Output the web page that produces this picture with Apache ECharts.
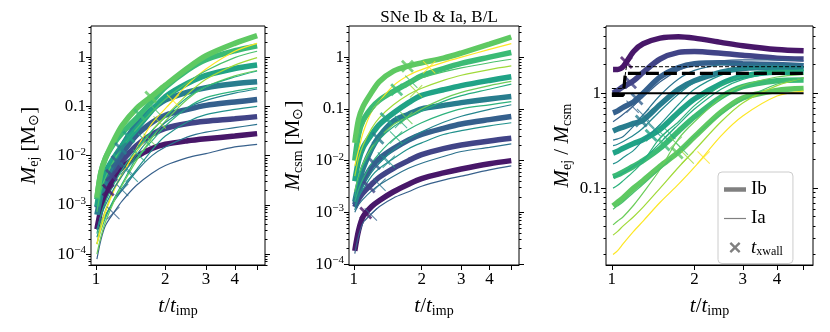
<!DOCTYPE html>
<html>
<head>
<meta charset="utf-8">
<script src="https://cdn.jsdelivr.net/npm/echarts@6/dist/echarts.min.js"></script>
<style>
  html, body { margin: 0; padding: 0; background: #fff; }
  #chart { width: 830px; height: 332px; }
</style>
</head>
<body>
<div id="chart"></div>
<script>
// t / t_imp sample points shared by every curve
const tGrid = [1.01, 1.05, 1.1, 1.2, 1.3, 1.5, 1.75, 2, 2.5, 3, 4, 5];

// SNe Ib (thick) -- M_ej
const ejIb1 = [3.2e-4, 7.9e-4, 1.6e-3, 3.6e-3, 5.8e-3, 9.5e-3, 0.014, 0.017, 0.020, 0.022, 0.025, 0.028];
const ejIb2 = [1.26e-3, 1.9e-3, 2.8e-3, 4.8e-3, 7.9e-3, 0.016, 0.027, 0.036, 0.045, 0.050, 0.056, 0.062];
const ejIb3 = [8.7e-4, 1.6e-3, 2.8e-3, 6.2e-3, 0.011, 0.026, 0.047, 0.066, 0.087, 0.105, 0.123, 0.138];
const ejIb4 = [6.3e-4, 1.5e-3, 3.1e-3, 7.9e-3, 0.016, 0.044, 0.087, 0.135, 0.195, 0.24, 0.288, 0.316];
const ejIb5 = [9.3e-4, 2.5e-3, 4.7e-3, 9.3e-3, 0.016, 0.035, 0.083, 0.158, 0.295, 0.427, 0.589, 0.692];
const ejIb6 = [1.3e-3, 4.4e-3, 8.9e-3, 0.018, 0.029, 0.058, 0.126, 0.245, 0.55, 0.89, 1.35, 1.7];
const ejIb7 = [1.4e-3, 4.5e-3, 8.9e-3, 0.021, 0.041, 0.091, 0.162, 0.269, 0.603, 1.07, 1.91, 2.75];

// SNe Ib -- M_csm
const csmIb1 = [1.8e-4, 4.5e-4, 8.3e-4, 1.3e-3, 1.7e-3, 2.5e-3, 3.5e-3, 4.5e-3, 5.8e-3, 6.9e-3, 8.7e-3, 0.010];
const csmIb2 = [1.26e-3, 1.8e-3, 2.4e-3, 3.5e-3, 4.8e-3, 7.1e-3, 0.010, 0.013, 0.017, 0.020, 0.024, 0.027];
const csmIb3 = [1.4e-3, 2.5e-3, 4.0e-3, 7.6e-3, 0.011, 0.017, 0.025, 0.032, 0.042, 0.051, 0.062, 0.071];
const csmIb4 = [1.6e-3, 3.5e-3, 7.1e-3, 0.017, 0.030, 0.058, 0.079, 0.10, 0.117, 0.132, 0.155, 0.174];
const csmIb5 = [4.0e-3, 0.010, 0.018, 0.032, 0.050, 0.083, 0.132, 0.182, 0.234, 0.282, 0.355, 0.417];
const csmIb6 = [0.010, 0.032, 0.060, 0.105, 0.148, 0.219, 0.316, 0.437, 0.603, 0.759, 1.0, 1.23];
const csmIb7 = [0.022, 0.063, 0.112, 0.209, 0.339, 0.537, 0.676, 0.776, 0.955, 1.2, 1.78, 2.45];

// SNe Ib -- M_ej / M_csm
const ratioIb1 = [1.78, 1.78, 1.91, 2.75, 3.31, 3.8, 3.94, 3.8, 3.43, 3.16, 2.88, 2.79];
const ratioIb2 = [1.0, 1.07, 1.17, 1.35, 1.66, 2.29, 2.69, 2.75, 2.63, 2.51, 2.34, 2.29];
const ratioIb3 = [0.62, 0.65, 0.71, 0.81, 1.0, 1.48, 1.86, 2.04, 2.09, 2.04, 2.0, 1.95];
const ratioIb4 = [0.40, 0.42, 0.44, 0.48, 0.52, 0.76, 1.1, 1.35, 1.66, 1.82, 1.86, 1.82];
const ratioIb5 = [0.234, 0.245, 0.263, 0.295, 0.324, 0.417, 0.63, 0.87, 1.26, 1.51, 1.66, 1.66];
const ratioIb6 = [0.132, 0.138, 0.148, 0.17, 0.195, 0.263, 0.398, 0.562, 0.912, 1.17, 1.35, 1.38];
const ratioIb7 = [0.065, 0.071, 0.079, 0.10, 0.12, 0.17, 0.24, 0.347, 0.631, 0.891, 1.07, 1.12];

// SNe Ia (thin) -- M_ej
const ejIa1 = [7.9e-5, 1.9e-4, 3.8e-4, 7.1e-4, 1.2e-3, 2.5e-3, 4.4e-3, 6.3e-3, 9.1e-3, 0.011, 0.015, 0.017];
const ejIa2 = [3.2e-4, 4.7e-4, 6.3e-4, 1.2e-3, 2.0e-3, 4.8e-3, 0.010, 0.015, 0.024, 0.030, 0.037, 0.043];
const ejIa3 = [2.2e-4, 3.8e-4, 5.9e-4, 1.26e-3, 2.2e-3, 5.2e-3, 0.013, 0.025, 0.049, 0.068, 0.087, 0.10];
const ejIa4 = [1.6e-4, 3.0e-4, 5.4e-4, 1.35e-3, 2.7e-3, 8.9e-3, 0.020, 0.040, 0.095, 0.151, 0.204, 0.24];
const ejIa5 = [1.0e-4, 2.2e-4, 4.5e-4, 1.2e-3, 2.5e-3, 7.9e-3, 0.023, 0.050, 0.141, 0.25, 0.417, 0.537];
const ejIa6 = [1.6e-4, 4.0e-4, 7.9e-4, 2.1e-3, 4.3e-3, 0.012, 0.032, 0.063, 0.178, 0.355, 0.69, 0.98];
const ejIa7 = [1.6e-4, 3.2e-4, 7.0e-4, 2.0e-3, 4.0e-3, 0.014, 0.045, 0.09, 0.28, 0.575, 1.32, 1.91];
const ejIa8 = [7.2e-4, 1.95e-3, 3.6e-3, 8.1e-3, 0.0154, 0.035, 0.077, 0.14, 0.31, 0.53, 0.98, 1.32];
const ejIa9 = [2.6e-4, 6.1e-4, 1.16e-3, 2.7e-3, 5.2e-3, 0.0135, 0.032, 0.061, 0.154, 0.252, 0.396, 0.525];
const ejIa10 = [3.1e-4, 5.8e-4, 9.9e-4, 2.2e-3, 3.9e-3, 0.0104, 0.0255, 0.047, 0.094, 0.133, 0.186, 0.226];

// SNe Ia -- M_csm
const csmIa1 = [1.6e-4, 3.5e-4, 6.3e-4, 9.5e-4, 1.3e-3, 1.9e-3, 2.5e-3, 3.2e-3, 4.2e-3, 5.0e-3, 6.6e-3, 7.9e-3];
const csmIa2 = [1.0e-3, 1.4e-3, 1.8e-3, 2.6e-3, 3.4e-3, 5.0e-3, 7.1e-3, 8.9e-3, 0.012, 0.015, 0.018, 0.021];
const csmIa3 = [1.26e-3, 2.0e-3, 2.8e-3, 5.0e-3, 7.1e-3, 0.011, 0.017, 0.022, 0.032, 0.038, 0.047, 0.054];
const csmIa4 = [1.6e-3, 2.8e-3, 4.5e-3, 8.9e-3, 0.014, 0.026, 0.040, 0.054, 0.079, 0.10, 0.12, 0.138];
const csmIa5 = [2.5e-3, 5.0e-3, 8.9e-3, 0.018, 0.028, 0.050, 0.071, 0.10, 0.158, 0.209, 0.282, 0.339];
const csmIa6 = [5.0e-3, 0.011, 0.020, 0.042, 0.068, 0.12, 0.19, 0.25, 0.355, 0.447, 0.575, 0.676];
const csmIa7 = [7.9e-3, 0.016, 0.035, 0.089, 0.141, 0.282, 0.447, 0.575, 0.794, 1.0, 1.41, 1.82];
const csmIa8 = [0.012, 0.030, 0.050, 0.090, 0.14, 0.22, 0.32, 0.40, 0.52, 0.62, 0.78, 0.91];
const csmIa9 = [2.0e-3, 4.5e-3, 8.0e-3, 0.016, 0.026, 0.045, 0.068, 0.09, 0.14, 0.18, 0.24, 0.30];
const csmIa10 = [1.1e-3, 2.0e-3, 3.2e-3, 6.0e-3, 9.0e-3, 0.016, 0.026, 0.036, 0.055, 0.072, 0.098, 0.12];

// SNe Ia -- M_ej / M_csm
const ratioIa1 = [0.50, 0.54, 0.60, 0.74, 0.91, 1.32, 1.74, 2.0, 2.19, 2.24, 2.24, 2.19];
const ratioIa2 = [0.32, 0.33, 0.35, 0.45, 0.59, 0.95, 1.41, 1.74, 2.0, 2.04, 2.04, 2.04];
const ratioIa3 = [0.18, 0.19, 0.21, 0.25, 0.32, 0.47, 0.76, 1.1, 1.55, 1.78, 1.86, 1.86];
const ratioIa4 = [0.10, 0.107, 0.12, 0.15, 0.19, 0.34, 0.50, 0.74, 1.2, 1.51, 1.7, 1.74];
const ratioIa5 = [0.041, 0.045, 0.050, 0.066, 0.089, 0.158, 0.331, 0.50, 0.89, 1.2, 1.48, 1.58];
const ratioIa6 = [0.032, 0.035, 0.040, 0.050, 0.063, 0.10, 0.166, 0.25, 0.50, 0.79, 1.2, 1.45];
const ratioIa7 = [0.020, 0.022, 0.026, 0.035, 0.045, 0.071, 0.11, 0.166, 0.355, 0.575, 0.933, 1.05];
const ratioIa8 = [0.060, 0.065, 0.072, 0.09, 0.11, 0.16, 0.24, 0.35, 0.60, 0.85, 1.25, 1.45];
const ratioIa9 = [0.13, 0.135, 0.145, 0.17, 0.20, 0.30, 0.47, 0.68, 1.1, 1.4, 1.65, 1.75];
const ratioIa10 = [0.28, 0.29, 0.31, 0.36, 0.43, 0.65, 0.98, 1.3, 1.7, 1.85, 1.9, 1.88];

// t_xwall crosses
const xwallTIb = [1.13, 1.17, 1.235, 1.28, 1.39, 1.55, 1.73];
const xwallEjIb = [2.0e-3, 4.0e-3, 7.6e-3, 0.014, 0.024, 0.067, 0.155];
const xwallCsmIb = [9.7e-4, 3.1e-3, 8.7e-3, 0.027, 0.065, 0.235, 0.665];
const xwallRatioIb = [2.1, 1.29, 0.87, 0.51, 0.36, 0.285, 0.234];
const xwallTIa = [1.19, 1.30, 1.43, 1.54, 1.71, 1.89, 2.16, 1.8, 1.62, 1.36];
const xwallEjIa = [6.8e-4, 2.0e-3, 3.9e-3, 0.010, 0.021, 0.047, 0.13, 0.088, 0.021, 5.5e-3];
const xwallCsmIa = [9.1e-4, 3.4e-3, 9.5e-3, 0.028, 0.067, 0.22, 0.64, 0.335, 0.056, 0.011];
const xwallRatioIa = [0.72, 0.59, 0.41, 0.36, 0.30, 0.21, 0.21, 0.26, 0.38, 0.49];

// black guide lines in the ratio panel
const guideSolidT = [1.0, 5.0];
const guideSolidV = [1.0, 1.0];
const guideThickT = [1.0, 1.1, 1.12, 5.0];
const guideThickV = [0.95, 0.95, 1.62, 1.62];
const guideThinT = [1.0, 1.1, 1.13, 5.0];
const guideThinV = [1.12, 1.12, 1.9, 1.9];

const ibColors = ['#481769', '#414487', '#35608d', '#287d8e', '#20a386', '#3bbb75', '#5ec962'];
const iaColors = ['#38618c', '#2c728e', '#21918c', '#2db27d', '#6ccd5a', '#a0da39', '#fde725',
  '#4ac16d', '#27ad81', '#24868e'];

const panels = [
  { ib: [ejIb1, ejIb2, ejIb3, ejIb4, ejIb5, ejIb6, ejIb7],
    ia: [ejIa1, ejIa2, ejIa3, ejIa4, ejIa5, ejIa6, ejIa7, ejIa8, ejIa9, ejIa10],
    xIb: xwallEjIb, xIa: xwallEjIa },
  { ib: [csmIb1, csmIb2, csmIb3, csmIb4, csmIb5, csmIb6, csmIb7],
    ia: [csmIa1, csmIa2, csmIa3, csmIa4, csmIa5, csmIa6, csmIa7, csmIa8, csmIa9, csmIa10],
    xIb: xwallCsmIb, xIa: xwallCsmIa },
  { ib: [ratioIb1, ratioIb2, ratioIb3, ratioIb4, ratioIb5, ratioIb6, ratioIb7],
    ia: [ratioIa1, ratioIa2, ratioIa3, ratioIa4, ratioIa5, ratioIa6, ratioIa7, ratioIa8, ratioIa9, ratioIa10],
    xIb: xwallRatioIb, xIa: xwallRatioIa }
];

const FONT = 'Liberation Serif';
const grids = [
  { left: 91, top: 26, width: 174, height: 239 },
  { left: 349, top: 26, width: 170, height: 239 },
  { left: 606, top: 26, width: 207, height: 239 }
];
const yRanges = [[6e-5, 4.3], [9.6e-5, 4.0], [0.0155, 5.1]];
const yNames = [
  '{i|M}{s|ej} [M{s|⊙}]',
  '{i|M}{s|csm} [M{s|⊙}]',
  '{i|M}{s|ej} / {i|M}{s|csm}'
];
const yNameGaps = [50, 44, 32];

const crossThick = 'path://M0,1.84L1.84,0L6,4.16L10.16,0L12,1.84L7.84,6L12,10.16L10.16,12L6,7.84L1.84,12L0,10.16L4.16,6Z';
const crossThin = 'path://M0,0.7L0.7,0L6,5.3L11.3,0L12,0.7L6.7,6L12,11.3L11.3,12L6,6.7L0.7,12L0,11.3L5.3,6Z';

const nameStyle = {
  fontFamily: FONT, fontSize: 21, color: '#000',
  rich: {
    i: { fontFamily: FONT, fontStyle: 'italic', fontSize: 21, color: '#000' },
    s: { fontFamily: FONT, fontSize: 14, color: '#000', padding: [9, 0, 0, 0] }
  }
};
const labelRich = { sup: { fontFamily: FONT, fontSize: 11, color: '#000', padding: [0, 0, 8, 0] } };

function logLabel (v) {
  if (v >= 0.1) return String(+v.toPrecision(3));
  const e = Math.round(Math.log10(v));
  return '10{sup|−' + (-e) + '}';
}

function decadeTicks (lo, hi) {
  const major = [];
  const minor = [];
  for (let e = -6; e <= 1; e++) {
    for (let m = 1; m <= 9; m++) {
      const v = +(m * Math.pow(10, e)).toPrecision(3);
      if (v < lo || v > hi) continue;
      if (m === 1) major.push(v); else minor.push(v);
    }
  }
  return { major, minor };
}

const xAxes = [];
const yAxes = [];
grids.forEach((g, k) => {
  xAxes.push({
    type: 'log', gridIndex: k, min: 0.952, max: 5.41,
    axisLine: { show: true, lineStyle: { color: '#000', width: 1 } },
    axisTick: { show: true, inside: false, length: 5, customValues: [1, 2, 3, 4, 5], lineStyle: { color: '#000' } },
    axisLabel: { customValues: [1, 2, 3, 4], fontFamily: FONT, fontSize: 17, color: '#000', margin: 6 },
    splitLine: { show: false },
    name: '{i|t}/{i|t}{s|imp}', nameLocation: 'middle', nameGap: 30,
    nameTextStyle: nameStyle
  });
  const r = yRanges[k];
  const tk = decadeTicks(r[0], r[1]);
  [['left', true], ['right', false]].forEach(([pos, withLabels]) => {
    yAxes.push({
      type: 'log', gridIndex: k, min: r[0], max: r[1], position: pos, offset: 0,
      axisLine: { show: false },
      axisTick: { show: true, inside: false, length: 5, customValues: tk.major, lineStyle: { color: '#000' } },
      axisLabel: withLabels
        ? { customValues: tk.major, formatter: logLabel, fontFamily: FONT, fontSize: 17, color: '#000', margin: 5, rich: labelRich }
        : { show: false },
      splitLine: { show: false },
      name: withLabels ? yNames[k] : '', nameLocation: 'middle', nameGap: yNameGaps[k], nameRotate: 90,
      nameTextStyle: nameStyle
    });
    yAxes.push({
      type: 'log', gridIndex: k, min: r[0], max: r[1], position: pos, offset: 0,
      axisLine: { show: false },
      axisTick: { show: true, inside: false, length: 2.5, customValues: tk.minor, lineStyle: { color: '#000' } },
      axisLabel: { show: false },
      splitLine: { show: false }
    });
  });
});

const series = [];
function curve (k, vals, color, thick) {
  series.push({
    type: 'line', xAxisIndex: k, yAxisIndex: k * 4,
    data: tGrid.map((t, i) => [t, vals[i]]),
    showSymbol: false, smooth: 0.3, silent: true,
    lineStyle: { color: color, width: thick ? 5.5 : 1.2 },
    itemStyle: { color: color }, z: thick ? 2 : 3
  });
}
function crosses (k, ts, vals, colors, thick) {
  series.push({
    type: 'scatter', xAxisIndex: k, yAxisIndex: k * 4, silent: true,
    symbol: thick ? crossThick : crossThin, symbolSize: 13,
    data: ts.map((t, i) => ({ value: [t, vals[i]], itemStyle: { color: colors[i] } })),
    z: 5
  });
}

panels.forEach((p, k) => {
  p.ib.forEach((vals, j) => curve(k, vals, ibColors[j], true));
  p.ia.forEach((vals, j) => curve(k, vals, iaColors[j], false));
  crosses(k, xwallTIb, p.xIb, ibColors, true);
  crosses(k, xwallTIa, p.xIa, iaColors, false);
});

// guide lines (ratio panel)
function guide (ts, vs, width, type) {
  series.push({
    type: 'line', xAxisIndex: 2, yAxisIndex: 8, silent: true, showSymbol: false,
    data: ts.map((t, i) => [t, vs[i]]),
    lineStyle: { color: '#000', width: width, type: type }, z: 6
  });
}
guide(guideSolidT, guideSolidV, 2, 'solid');
guide(guideThickT, guideThickV, 3.2, [13, 5]);
guide(guideThinT, guideThinV, 1, [4, 2]);

// legend-only series
['Ib', 'Ia', 'xwall'].forEach(n => {
  series.push({ name: n, type: 'line', xAxisIndex: 2, yAxisIndex: 8, data: [], itemStyle: { color: '#808080' }, lineStyle: { color: '#808080' } });
});

const option = {
  animation: false,
  backgroundColor: '#fff',
  title: {
    text: 'SNe Ib & Ia, B/L', left: 434, top: 4, textAlign: 'center',
    textStyle: { fontFamily: FONT, fontSize: 17, fontWeight: 'normal', color: '#000' }
  },
  grid: grids.map(g => Object.assign({ show: true, borderColor: '#000', borderWidth: 1, backgroundColor: 'transparent' }, g)),
  xAxis: xAxes,
  yAxis: yAxes,
  legend: {
    orient: 'vertical', left: 718, top: 172, itemWidth: 22, itemHeight: 11, itemGap: 10,
    backgroundColor: '#fff', borderColor: '#cccccc', borderWidth: 1, borderRadius: 4,
    padding: [8, 10, 6, 6], selectedMode: false,
    data: [
      { name: 'Ib', icon: 'path://M0,0h22v4.5h-22z' },
      { name: 'Ia', icon: 'path://M0,0h22v1.2h-22z' },
      { name: 'xwall', icon: crossThick }
    ],
    formatter: n => n === 'xwall' ? '{i|t}{s|xwall}' : n,
    textStyle: {
      fontFamily: FONT, fontSize: 19, color: '#000',
      rich: {
        i: { fontFamily: FONT, fontStyle: 'italic', fontSize: 19, color: '#000' },
        s: { fontFamily: FONT, fontSize: 12, color: '#000', padding: [8, 0, 0, 0] }
      }
    }
  },
  series: series
};

const chart = echarts.init(document.getElementById('chart'), null, { renderer: 'canvas' });
chart.setOption(option);
</script>
</body>
</html>
